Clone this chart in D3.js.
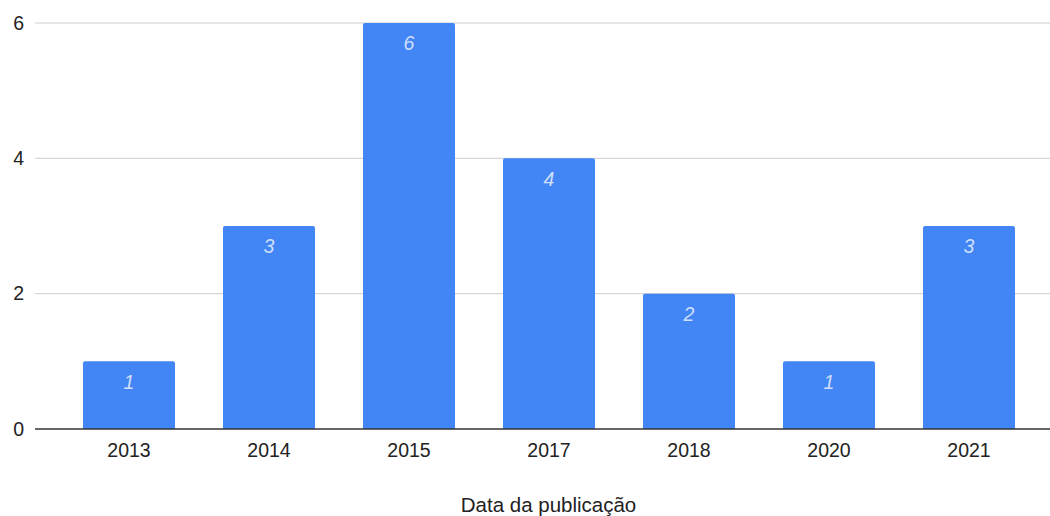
<!DOCTYPE html>
<html>
<head>
<meta charset="utf-8">
<script src="https://cdn.jsdelivr.net/npm/d3@7"></script>
<style>
  html, body { margin: 0; padding: 0; background: #fff; }
  svg { display: block; font-family: "Liberation Sans", Arial, sans-serif; }
</style>
</head>
<body>
<svg id="chart" width="1050" height="516"></svg>
<script>
// Publications per year
const years = ["2013", "2014", "2015", "2017", "2018", "2020", "2021"];
const counts = [1, 3, 6, 4, 2, 1, 3];
const yTicks = [0, 2, 4, 6];
const xTitle = "Data da publicação";

const svg = d3.select("#chart");
const gridLeft = 35, gridRight = 1050;
const plotTop = 23, plotBottom = 429;
const fs = 19.5;

const x = d3.scaleBand()
  .domain(years)
  .range([59, 1039])
  .paddingInner(0.343)
  .paddingOuter(0.1715);

const y = d3.scaleLinear().domain([0, 6]).range([plotBottom, plotTop]);

// horizontal gridlines
svg.append("g").selectAll("line")
  .data(yTicks.filter(t => t !== 0))
  .join("line")
  .attr("x1", gridLeft).attr("x2", gridRight)
  .attr("y1", d => y(d)).attr("y2", d => y(d))
  .attr("stroke", "#cccccc").attr("stroke-width", 1);

// y tick labels
svg.append("g").selectAll("text")
  .data(yTicks)
  .join("text")
  .attr("x", 24).attr("y", d => y(d))
  .attr("dy", "0.35em")
  .attr("text-anchor", "end")
  .attr("font-size", fs)
  .attr("fill", "#222")
  .text(d => d);

// bars with slightly rounded top corners
const r = 2;
svg.append("g").selectAll("path")
  .data(years.map((yr, i) => ({ yr, v: counts[i] })))
  .join("path")
  .attr("fill", "#4285f4")
  .attr("d", d => {
    const x0 = x(d.yr), w = x.bandwidth(), y0 = y(d.v), y1 = y(0);
    return `M${x0},${y1}V${y0 + r}Q${x0},${y0} ${x0 + r},${y0}H${x0 + w - r}Q${x0 + w},${y0} ${x0 + w},${y0 + r}V${y1}Z`;
  });

// value labels inside bars
svg.append("g").selectAll("text")
  .data(years.map((yr, i) => ({ yr, v: counts[i] })))
  .join("text")
  .attr("x", d => x(d.yr) + x.bandwidth() / 2)
  .attr("y", d => y(d.v) + 20.5)
  .attr("dy", "0.35em")
  .attr("text-anchor", "middle")
  .attr("font-size", fs)
  .attr("font-style", "italic")
  .attr("fill", "#cfdffc")
  .text(d => d.v);

// baseline
svg.append("line")
  .attr("x1", gridLeft).attr("x2", gridRight)
  .attr("y1", y(0)).attr("y2", y(0))
  .attr("stroke", "#333").attr("stroke-width", 1.5);

// x tick labels
svg.append("g").selectAll("text")
  .data(years)
  .join("text")
  .attr("x", d => x(d) + x.bandwidth() / 2)
  .attr("y", 450.5)
  .attr("dy", "0.35em")
  .attr("text-anchor", "middle")
  .attr("font-size", fs)
  .attr("fill", "#222")
  .text(d => d);

// axis title
svg.append("text")
  .attr("x", 548.5).attr("y", 505)
  .attr("dy", "0.35em")
  .attr("text-anchor", "middle")
  .attr("font-size", 20.5)
  .attr("fill", "#222")
  .text(xTitle);
</script>
</body>
</html>
